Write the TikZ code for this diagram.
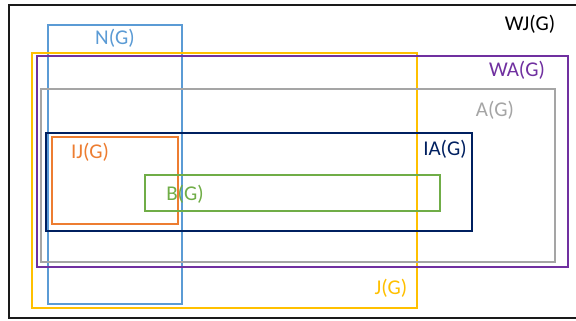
\documentclass[tikz,border=0pt]{standalone}
\usepackage{fontspec}
\setmainfont{Carlito}
\definecolor{cBlack}{HTML}{1A1A1A}
\definecolor{cBlue}{HTML}{5B9BD5}
\definecolor{cYellow}{HTML}{FFC000}
\definecolor{cPurple}{HTML}{7030A0}
\definecolor{cGray}{HTML}{A5A5A5}
\definecolor{cNavy}{HTML}{002060}
\definecolor{cOrange}{HTML}{ED7D31}
\definecolor{cGreen}{HTML}{70AD47}
\tikzset{
  setbox/.style={draw=#1, line width=2.2pt},
  setlabel/.style={text=#1, font=\fontsize{21}{24}\selectfont, inner sep=0pt, anchor=center}
}
\begin{document}
\begin{tikzpicture}[x=1pt,y=-1pt]
\useasboundingbox (0,0) rectangle (576,321);
\clip (0,0) rectangle (576,321);
\fill[white] (0,0) rectangle (576,321);
% outer universe
\draw[setbox=cBlack] (9,5) rectangle (590,318);
% nested sets
\draw[setbox=cBlue]   (48,25)  rectangle (182,304);
\draw[setbox=cYellow] (32,53)  rectangle (417,308);
\draw[setbox=cPurple] (37,56)  rectangle (568,267);
\draw[setbox=cGray]   (41,89)  rectangle (555,262);
\draw[setbox=cNavy]   (46,133) rectangle (472,231);
\draw[setbox=cOrange] (52,137) rectangle (178,224);
\draw[setbox=cGreen]  (145,175) rectangle (440,211);
% labels
\node[setlabel=black]   (wj) at (530,24)  {WJ(G)};
\node[setlabel=cBlue]   (n)  at (115,38)  {N(G)};
\node[setlabel=cPurple] (wa) at (517,70)  {WA(G)};
\node[setlabel=cGray]   (a)  at (495,110) {A(G)};
\node[setlabel=cNavy]   (ia) at (445,149) {IA(G)};
\node[setlabel=cOrange] (ij) at (90,152)  {IJ(G)};
\node[setlabel=cGreen]  (b)  at (185,194) {B(G)};
\node[setlabel=cYellow] (j)  at (391,288) {J(G)};
\end{tikzpicture}
\end{document}
